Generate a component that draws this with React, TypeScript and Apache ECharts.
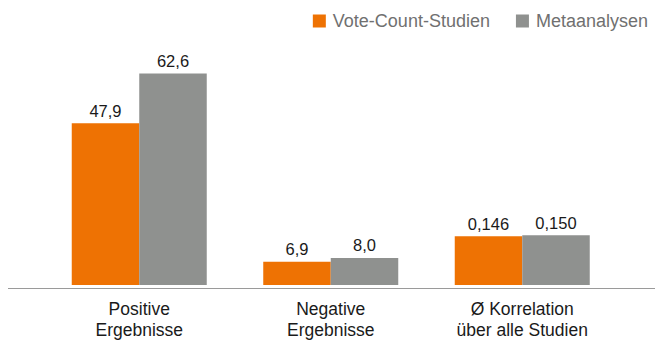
import React, { useEffect, useRef } from "react";
import * as echarts from "echarts";

const categories = ["Positive\nErgebnisse", "Negative\nErgebnisse", "Ø Korrelation\nüber alle Studien"];
const voteCountValues = [47.9, 6.9, 14.4];
const metaValues = [62.6, 8.0, 14.7];
const voteCountLabels = ["47,9", "6,9", "0,146"];
const metaLabels = ["62,6", "8,0", "0,150"];
const seriesNames = ["Vote-Count-Studien", "Metaanalysen"];

const FONT = "'Liberation Sans', Arial, Helvetica, sans-serif";

export default function App() {
  const ref = useRef<HTMLDivElement>(null);
  useEffect(() => {
    if (!ref.current) return;
    const chart = echarts.init(ref.current, null, { renderer: "svg" });
    const mkSeries = (name: string, values: number[], labels: string[], color: string) => ({
      name,
      type: "bar",
      data: values,
      barGap: "0%",
      barCategoryGap: "29.5%",
      itemStyle: { color },
      label: {
        show: true,
        position: "top",
        distance: 4,
        color: "#1a1a1a",
        fontSize: 16.5,
        fontFamily: FONT,
        formatter: (p: any) => labels[p.dataIndex],
      },
    });
    chart.setOption({
      animation: false,
      textStyle: { fontFamily: FONT },
      legend: {
        right: 2,
        top: 7,
        itemWidth: 13,
        itemHeight: 13,
        itemGap: 26,
        icon: "rect",
        textStyle: { color: "#707070", fontSize: 18, fontFamily: FONT, padding: [0, 0, 0, 2] },
        data: seriesNames,
      },
      grid: { left: 43.5, right: 37, top: 40, bottom: 52 },
      xAxis: {
        type: "category",
        data: categories,
        axisLine: { show: false },
        axisTick: { show: false },
        axisLabel: {
          color: "#1a1a1a",
          fontSize: 17.5,
          lineHeight: 21,
          margin: 13,
          fontFamily: FONT,
        },
      },
      yAxis: { type: "value", min: 0, max: 72.5, show: false, splitLine: { show: false } },
      graphic: [
        {
          type: "line",
          shape: { x1: 8, y1: 288.5, x2: 655, y2: 288.5 },
          style: { stroke: "#9a9a9a", lineWidth: 1 },
          z: 10,
        },
      ],
      series: [
        mkSeries(seriesNames[0], voteCountValues, voteCountLabels, "#EE7203"),
        mkSeries(seriesNames[1], metaValues, metaLabels, "#8F918F"),
      ],
    });
    return () => chart.dispose();
  }, []);
  return (
    <div
      ref={ref}
      style={{ position: "fixed", left: 0, top: 0, width: 655, height: 340, background: "#fff" }}
    />
  );
}
